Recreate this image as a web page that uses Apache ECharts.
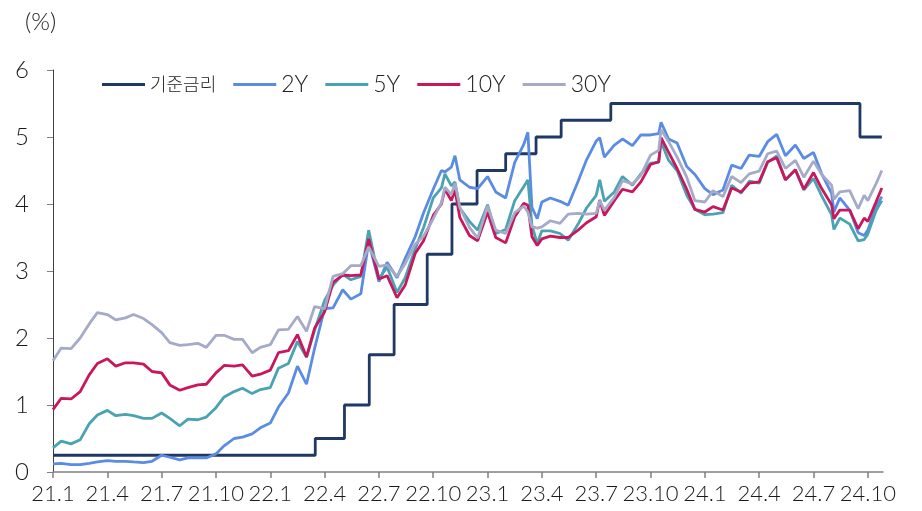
<!DOCTYPE html>
<html><head><meta charset="utf-8">
<script src="https://cdn.jsdelivr.net/npm/echarts@6/dist/echarts.min.js"></script>
<style>html,body{margin:0;padding:0;background:#fff}#c{width:922px;height:511px}</style>
</head><body><div id="c"></div>
<script>
// ---- data ----
const seriesNames = ['기준금리', '2Y', '5Y', '10Y', '30Y'];
const xTickLabels = ['21.1','21.4','21.7','21.10','22.1','22.4','22.7','22.10','23.1','23.4','23.7','23.10','24.1','24.4','24.7','24.10'];

const fedDates = ['2021-01-01','2022-03-16','2022-05-04','2022-06-15','2022-07-27','2022-09-21','2022-11-02','2022-12-14','2023-02-01','2023-03-22','2023-05-03','2023-07-26','2024-09-18','2024-10-25'];
const fedRate  = [0.25, 0.50, 1.00, 1.75, 2.50, 3.25, 4.00, 4.50, 4.75, 5.00, 5.25, 5.50, 5.00, 5.00];

const dates = [
 '2021-01-01','2021-01-15','2021-02-01','2021-02-15','2021-03-01','2021-03-15','2021-04-01','2021-04-15','2021-05-01','2021-05-15','2021-06-01','2021-06-15','2021-07-01','2021-07-15','2021-08-01','2021-08-15','2021-09-01','2021-09-15','2021-10-01','2021-10-15','2021-11-01','2021-11-15','2021-12-01','2021-12-15',
 '2022-01-01','2022-01-15','2022-02-01','2022-02-15','2022-03-01','2022-03-15','2022-04-01','2022-04-15','2022-05-01','2022-05-15','2022-06-01','2022-06-14','2022-07-01','2022-07-15','2022-08-01','2022-08-15','2022-09-01','2022-09-15','2022-10-01','2022-10-15','2022-10-21','2022-11-01','2022-11-07','2022-11-15','2022-12-01','2022-12-15',
 '2023-01-01','2023-01-15','2023-02-01','2023-02-15','2023-03-01','2023-03-08','2023-03-15','2023-03-24','2023-04-01','2023-04-15','2023-05-01','2023-05-15','2023-06-01','2023-06-15','2023-07-01','2023-07-07','2023-07-15','2023-08-01','2023-08-15','2023-09-01','2023-09-15','2023-10-01','2023-10-15','2023-10-19','2023-11-01','2023-11-15','2023-12-01','2023-12-15',
 '2024-01-01','2024-01-15','2024-02-01','2024-02-15','2024-03-01','2024-03-15','2024-04-01','2024-04-15','2024-04-30','2024-05-15','2024-06-01','2024-06-15','2024-07-01','2024-07-15','2024-08-01','2024-08-05','2024-08-15','2024-09-01','2024-09-15','2024-09-25','2024-10-01','2024-10-15','2024-10-25'
];

const y2 = [
 0.12,0.13,0.11,0.11,0.13,0.15,0.17,0.16,0.16,0.15,0.14,0.16,0.25,0.22,0.18,0.21,0.21,0.21,0.27,0.39,0.50,0.52,0.57,0.66,
 0.73,0.97,1.18,1.58,1.31,1.85,2.44,2.45,2.72,2.58,2.66,3.43,2.84,3.13,2.90,3.19,3.51,3.87,4.22,4.50,4.48,4.55,4.72,4.36,4.25,4.23,
 4.41,4.18,4.09,4.62,4.89,5.07,3.95,3.78,4.03,4.09,4.04,3.98,4.34,4.66,4.94,4.99,4.70,4.88,4.97,4.87,5.03,5.03,5.05,5.22,4.97,4.91,4.56,4.44,
 4.23,4.14,4.21,4.58,4.53,4.73,4.71,4.93,5.04,4.72,4.88,4.68,4.77,4.45,4.16,3.88,4.09,3.91,3.57,3.53,3.61,3.96,4.11
];
const y5 = [
 0.36,0.46,0.42,0.48,0.72,0.85,0.92,0.84,0.86,0.84,0.80,0.80,0.88,0.80,0.69,0.79,0.78,0.82,0.96,1.12,1.20,1.25,1.17,1.23,
 1.26,1.55,1.62,1.95,1.71,2.12,2.56,2.79,2.95,2.87,2.92,3.61,2.88,3.06,2.68,2.90,3.33,3.65,4.09,4.24,4.45,4.27,4.33,3.94,3.74,3.61,
 3.99,3.56,3.62,4.05,4.26,4.36,3.68,3.41,3.60,3.60,3.56,3.46,3.70,3.94,4.13,4.36,4.04,4.18,4.41,4.28,4.45,4.61,4.62,4.93,4.65,4.50,4.13,3.92,
 3.84,3.85,3.87,4.28,4.16,4.34,4.31,4.62,4.72,4.36,4.51,4.21,4.38,4.12,3.84,3.62,3.79,3.70,3.45,3.47,3.55,3.90,4.05
];
const y10 = [
 0.93,1.10,1.09,1.20,1.45,1.62,1.69,1.58,1.63,1.63,1.61,1.50,1.48,1.30,1.22,1.26,1.30,1.31,1.48,1.59,1.58,1.60,1.43,1.46,
 1.52,1.78,1.81,2.05,1.72,2.15,2.39,2.83,2.94,2.93,2.94,3.48,2.88,2.93,2.60,2.79,3.26,3.45,3.83,4.00,4.22,4.05,4.21,3.80,3.53,3.45,
 3.88,3.50,3.42,3.81,4.01,3.98,3.51,3.38,3.48,3.52,3.50,3.50,3.61,3.72,3.81,4.06,3.83,4.05,4.22,4.18,4.33,4.59,4.63,4.99,4.77,4.53,4.22,3.92,
 3.88,3.96,3.91,4.24,4.18,4.31,4.33,4.63,4.69,4.36,4.51,4.22,4.47,4.23,3.99,3.78,3.91,3.91,3.63,3.79,3.74,4.03,4.24
];
const y30 = [
 1.66,1.85,1.84,2.00,2.21,2.38,2.35,2.27,2.30,2.35,2.29,2.20,2.08,1.93,1.89,1.90,1.92,1.86,2.04,2.04,1.98,1.98,1.78,1.86,
 1.90,2.12,2.13,2.32,2.10,2.47,2.44,2.92,2.96,3.08,3.08,3.36,3.07,3.09,2.92,3.11,3.40,3.52,3.78,4.02,4.25,4.14,4.31,3.95,3.65,3.49,
 3.97,3.61,3.56,3.87,3.97,3.88,3.66,3.64,3.66,3.75,3.71,3.85,3.86,3.85,3.86,4.05,3.91,4.10,4.35,4.30,4.43,4.73,4.80,5.11,4.93,4.70,4.40,4.05,
 4.03,4.20,4.11,4.41,4.32,4.45,4.49,4.75,4.79,4.53,4.65,4.40,4.64,4.44,4.28,4.07,4.18,4.20,3.93,4.13,4.05,4.30,4.50
];

// ---- chart ----
function toM(s){ const p = s.split('-').map(Number); const dim = new Date(p[0], p[1], 0).getDate(); return (p[0]-2021)*12 + (p[1]-1) + (p[2]-1)/dim; }
const pair = (arr) => dates.map((d, i) => [toM(d), arr[i]]);
const tickVals = xTickLabels.map((_, i) => i * 3);
const FONT = "Lato, 'Noto Sans', 'Noto Sans CJK KR', sans-serif";
const W = 300;
const COLORS = ['#1F3864', '#5B8CE3', '#4AA3B2', '#C8175D', '#A5AAC9'];

const chart = echarts.init(document.getElementById('c'));
function line(name, data, color, extra) {
  return Object.assign({ name, type: 'line', data, showSymbol: false, symbol: 'none',
    lineStyle: { width: 2.8, color }, itemStyle: { color }, emphasis: { disabled: true } }, extra || {});
}
chart.setOption({
  animation: false,
  backgroundColor: '#fff',
  textStyle: { fontFamily: FONT },
  title: { text: '(%)', left: 20, top: 5, textStyle: { fontSize: 24, fontWeight: W, color: '#222', fontFamily: FONT } },
  legend: {
    left: 97, top: 68, icon: 'rect', itemWidth: 43, itemHeight: 3, itemGap: 17,
    data: seriesNames,
    formatter: n => /[가-힣]/.test(n) ? '{k|' + n + '}' : n,
    textStyle: { fontSize: 23, fontWeight: W, color: '#222', fontFamily: FONT,
      rich: { k: { fontSize: 18, color: '#222', fontFamily: "'Noto Sans CJK KR'" } } }
  },
  grid: { left: 53, right: 39, top: 70, bottom: 39, containLabel: false },
  xAxis: {
    type: 'value', min: 0, max: toM('2024-10-27'),
    axisLine: { lineStyle: { color: '#808080', width: 1.5 } },
    axisTick: { show: true, length: 6, customValues: tickVals, lineStyle: { color: '#808080', width: 1.5 } },
    axisLabel: { customValues: tickVals, formatter: v => xTickLabels[Math.round(v / 3)], fontSize: 22, fontWeight: W, color: '#1a1a1a', margin: 11, fontFamily: FONT, showMaxLabel: true, hideOverlap: false },
    splitLine: { show: false }
  },
  yAxis: {
    type: 'value', min: 0, max: 6, interval: 1,
    axisLine: { show: true, lineStyle: { color: '#404040', width: 1 } },
    axisTick: { show: true, length: 6, lineStyle: { color: '#808080' } },
    axisLabel: { fontSize: 24, fontWeight: W, color: '#1a1a1a', margin: 24, fontFamily: FONT },
    splitLine: { show: false }
  },
  series: [
    line(seriesNames[0], fedDates.map((d, i) => [toM(d), fedRate[i]]), COLORS[0], { step: 'end' }),
    line(seriesNames[1], pair(y2), COLORS[1]),
    line(seriesNames[2], pair(y5), COLORS[2]),
    line(seriesNames[3], pair(y10), COLORS[3]),
    line(seriesNames[4], pair(y30), COLORS[4])
  ]
});
</script></body></html>
